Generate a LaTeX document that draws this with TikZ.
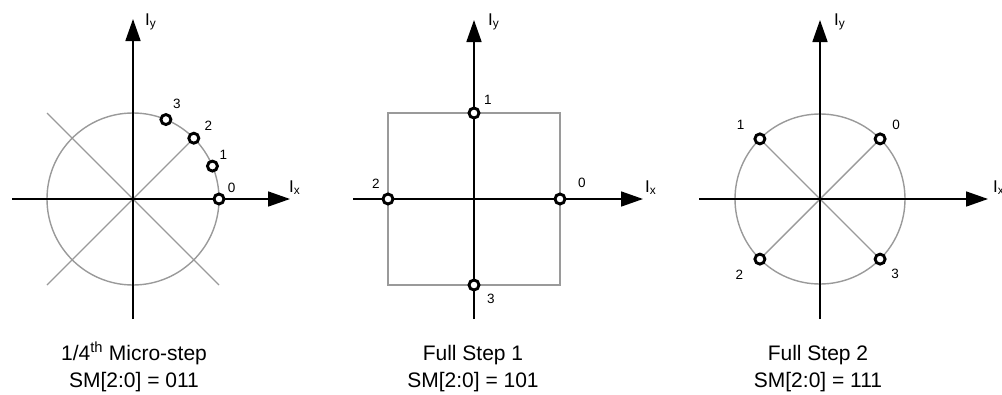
\documentclass[tikz,border=0pt]{standalone}
\usepackage{fontspec}
\setmainfont{Liberation Sans}
\usetikzlibrary{arrows.meta,backgrounds}
\definecolor{sgrey}{HTML}{9A9A9A}

\begin{document}
\begin{tikzpicture}[
  x=1pt,y=1pt,
  axis/.style={line width=1.7pt,-{Triangle[length=22pt,width=15pt]}},
  guide/.style={draw=sgrey,line width=1.4pt},
  ring/.style={circle,draw,fill=white,line width=2.9pt,minimum size=10pt,inner sep=0pt},
  num/.style={font=\fontsize{13.5}{15}\selectfont,inner sep=1pt},
  axlbl/.style={font=\fontsize{17}{19}\selectfont,inner sep=0pt,anchor=base west},
  capt/.style={font=\fontsize{21}{25}\selectfont,inner sep=0pt,anchor=base}
]
\useasboundingbox (0,0) rectangle (1002,-394);

% 1/4 micro-step
\begin{scope}[shift={(133,-199)}]
  \coordinate (p1o) at (0,0);
  \foreach \a/\n/\la/\ld in {0/0/35/3,22.5/1/44/2,45/2/34/5,67.5/3/59/5}
    \node[ring,label={[num,label distance=\ld pt]\la:\n}] (p1r\n) at (\a:86) {};
  \begin{scope}[on background layer]
    \draw[guide] (p1o) circle[radius=86];
    \draw[guide] (-86,86) -- (86,-86);
    \draw[guide] (-86,-86) -- (p1r2);
    \draw[axis] (-121,0) -- (157,0);
    \draw[axis] (0,-120) -- (0,180);
  \end{scope}
  \node[axlbl] (p1ix) at (156,7) {I\textsubscript{x}};
  \node[axlbl] (p1iy) at (12,174) {I\textsubscript{y}};
  \node[capt] (p1t) at (1,-161) {1/4\textsuperscript{th} Micro-step};
  \node[capt] (p1s) at (1,-188) {SM[2:0] = 011};
\end{scope}

% full step 1
\begin{scope}[shift={(474,-199)}]
  \coordinate (p2o) at (0,0);
  \foreach \a/\n/\la/\ld in {0/0/30/13,90/1/38/5,180/2/128/5,270/3/-35/8}
    \node[ring,label={[num,label distance=\ld pt]\la:\n}] (p2r\n) at (\a:86) {};
  \begin{scope}[on background layer]
    \draw[guide] (-86,-86) rectangle (86,86);
    \draw[axis] (-121,0) -- (169,0);
    \draw[axis] (0,-120) -- (0,179);
  \end{scope}
  \node[axlbl] (p2ix) at (171,7) {I\textsubscript{x}};
  \node[axlbl] (p2iy) at (14,174) {I\textsubscript{y}};
  \node[capt] (p2t) at (-1,-161) {Full Step 1};
  \node[capt] (p2s) at (-1,-188) {SM[2:0] = 101};
\end{scope}

% full step 2
\begin{scope}[shift={(820,-199)}]
  \coordinate (p3o) at (0,0);
  \foreach \a/\n/\la/\ld in {45/0/35/7,135/1/151/10,225/2/212/12,315/3/-41/7}
    \node[ring,label={[num,label distance=\ld pt]\la:\n}] (p3r\n) at (\a:85) {};
  \begin{scope}[on background layer]
    \draw[guide] (p3o) circle[radius=85];
    \draw[guide] (p3r0) -- (p3r2);
    \draw[guide] (p3r1) -- (p3r3);
    \draw[axis] (-121,0) -- (168,0);
    \draw[axis] (0,-120) -- (0,179);
  \end{scope}
  \node[axlbl] (p3ix) at (173,7) {I\textsubscript{x}};
  \node[axlbl] (p3iy) at (14,174) {I\textsubscript{y}};
  \node[capt] (p3t) at (-2,-161) {Full Step 2};
  \node[capt] (p3s) at (-2,-188) {SM[2:0] = 111};
\end{scope}
\end{tikzpicture}
\end{document}
